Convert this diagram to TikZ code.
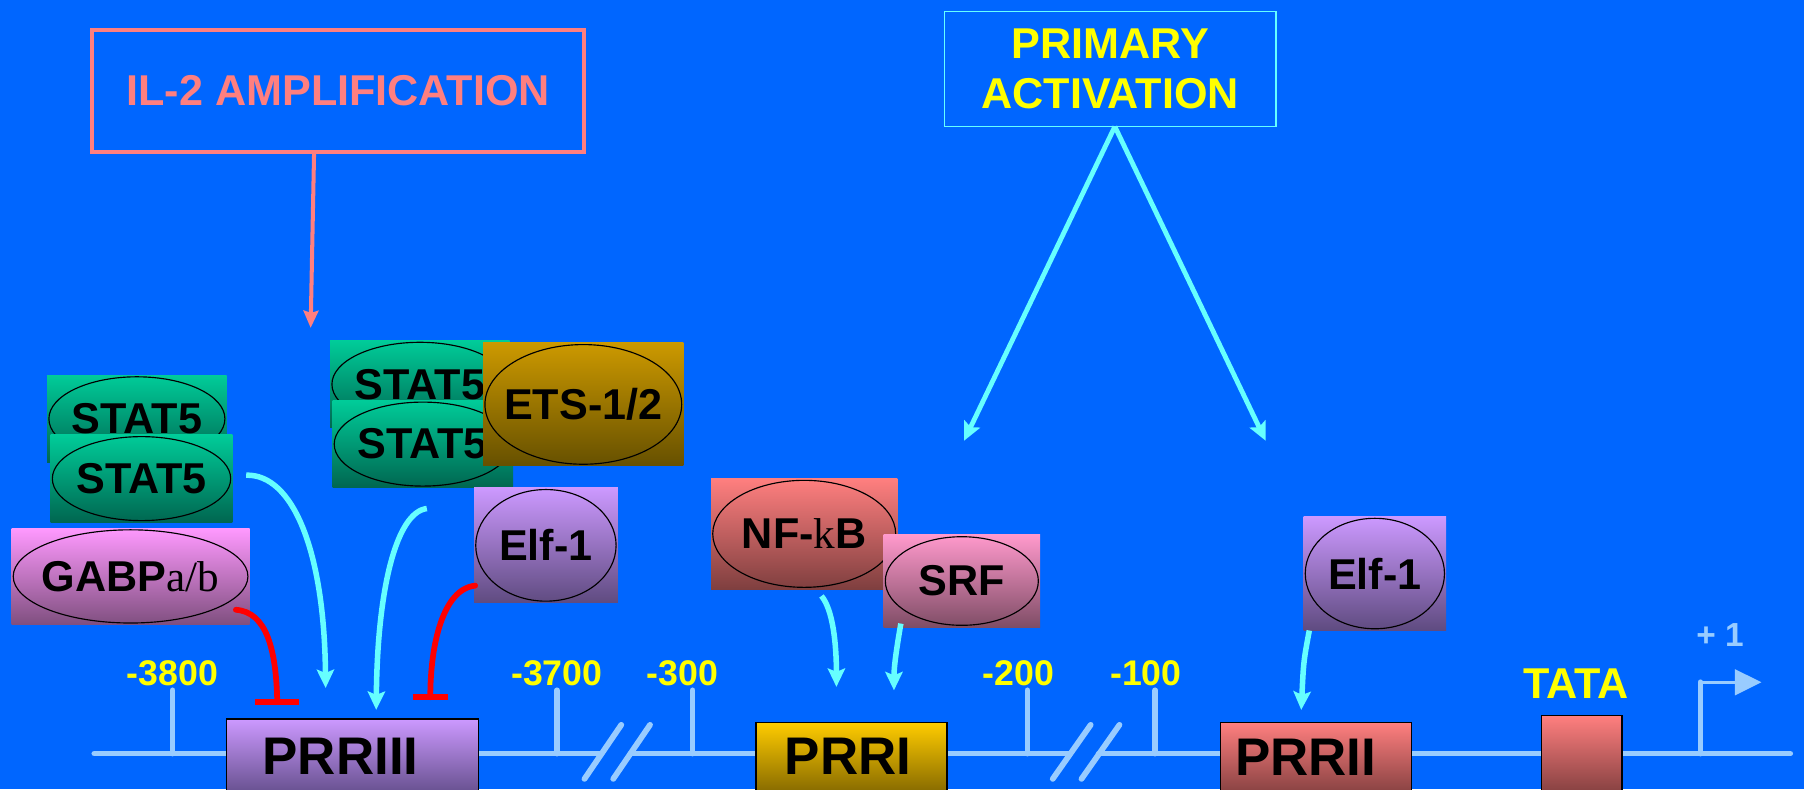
\documentclass[tikz,border=0pt]{standalone}
\usepackage{fontspec}
\setmainfont{Liberation Sans}
\newfontfamily\romanface{Liberation Serif}
\usetikzlibrary{arrows.meta,calc}

% palette
\definecolor{slidebg}{HTML}{0066FF}
\definecolor{salmon}{HTML}{FF7F7F}
\definecolor{aqua}{HTML}{66FFFF}
\definecolor{dnablue}{HTML}{99CCFF}
\definecolor{signyellow}{HTML}{FFFF00}
\definecolor{inhibred}{HTML}{FF0000}
\definecolor{statTop}{HTML}{00CC99}\definecolor{statBot}{HTML}{006650}
\definecolor{gabpTop}{HTML}{FF99FF}\definecolor{gabpBot}{HTML}{7F4F7F}
\definecolor{etsTop}{HTML}{CC9900}\definecolor{etsBot}{HTML}{665000}
\definecolor{elfTop}{HTML}{CC99FF}\definecolor{elfBot}{HTML}{5F4B80}
\definecolor{nfkbTop}{HTML}{FF7F7F}\definecolor{nfkbBot}{HTML}{7F3F3F}
\definecolor{srfTop}{HTML}{FF99CC}\definecolor{srfBot}{HTML}{7F4D66}
\definecolor{purpTop}{HTML}{CC99FF}\definecolor{purpBot}{HTML}{54437A}
\definecolor{goldTop}{HTML}{FFCC00}\definecolor{goldBot}{HTML}{6E5600}
\definecolor{redTop}{HTML}{FF7F7F}\definecolor{redBot}{HTML}{703636}

\newcommand{\bigfont}{\fontsize{37.5}{43.5}\selectfont\bfseries}
\newcommand{\numfont}{\fontsize{31}{34}\selectfont\bfseries}
\newcommand{\prrfont}{\fontsize{46}{50}\selectfont\bfseries}

\tikzset{
  x=1pt, y=-1pt,
  every node/.style={inner sep=0pt, outer sep=0pt},
  protein/.style={rectangle, font=\bigfont, text=black,
    path picture={\draw[black, line width=1pt]
      let \p1=(path picture bounding box.north east),
          \p2=(path picture bounding box.south west) in
      ($(\p1)!0.5!(\p2)$) ellipse ({(\x1-\x2)/2-1.5pt} and {(\y1-\y2)/2-1.5pt});}},
  gene/.style={rectangle, draw=black, line width=1.3pt, anchor=north west},
  prrlabel/.style={font=\prrfont, text=black, anchor=base},
  poslabel/.style={font=\numfont, text=signyellow, anchor=base},
  dna/.style={dnablue, line width=5pt, line cap=round},
  actarrow/.style={aqua, line width=4.8pt, -{Stealth[length=16pt,width=15pt,inset=3pt]}},
  ilarrow/.style={salmon, line width=3.5pt, -{Stealth[length=15pt,width=13pt,inset=2pt]}},
  inhib/.style={inhibred, line width=5pt, line cap=round},
}

\begin{document}
\begin{tikzpicture}
% slide background
\fill[slidebg] (0,0) rectangle (1568,686);
\useasboundingbox (0,0) rectangle (1568,686);
\clip (0,0) rectangle (1568,686);

% ---------- signal boxes ----------
\node[draw=salmon, line width=3.5pt, minimum width=428pt, minimum height=106pt,
      text=salmon, font=\bigfont] (il2) at (294,79) {IL-2 AMPLIFICATION};
\node[draw=aqua, line width=1.3pt, minimum width=288pt, minimum height=100pt,
      text=signyellow, font=\bigfont, align=center] (pa) at (965,60) {PRIMARY\\ACTIVATION};

\coordinate (iltip) at (270,285);
\coordinate (paL) at (838,383);
\coordinate (paR) at (1100,383);
\draw[ilarrow] ([xshift=-21pt]il2.south) -- (iltip);
\draw[actarrow, line width=4.2pt] ([xshift=4pt]pa.south) -- (paL);
\draw[actarrow, line width=4.2pt] ([xshift=4pt]pa.south) -- (paR);

% ---------- DNA ----------
\draw[dna] (82,655) -- (523,655);
\draw[dna] (548,655) -- (930,655);
\draw[dna] (955,655) -- (1556,655);
\draw[dna] (508,677) -- (540,630);
\draw[dna] (533,677) -- (565,630);
\draw[dna] (915,677) -- (948,630);
\draw[dna] (940,677) -- (973,630);

% position ticks and labels
\foreach \tx/\lab/\lx in {150/-3800/150, 484/-3700/484, 602/-300/593, 893/-200/885, 1004/-100/996}{
  \draw[dna] (\tx,600) -- (\tx,655);
  \node[poslabel] (pos\tx) at (\lx,596) {\lab};
}

% regulatory regions
\node[gene, top color=purpTop, bottom color=purpBot, minimum width=219pt, minimum height=76pt] (prr3) at (197,625) {};
\node[gene, top color=goldTop, bottom color=goldBot, minimum width=166pt, minimum height=73pt] (prr1) at (657,628) {};
\node[gene, top color=redTop, bottom color=redBot, minimum width=166pt, minimum height=73pt] (prr2) at (1061,628) {};
\node[gene, top color=redTop, bottom color=redBot, minimum width=70pt, minimum height=79pt] (tata) at (1340,622) {};
\node[prrlabel] (prr3txt) at (296,673) {PRRIII};
\node[prrlabel] (prr1txt) at (737,673) {PRRI};
\node[prrlabel] (prr2txt) at (1135,674) {PRRII};
\node[font=\bigfont, text=signyellow, anchor=base] (tatatxt) at (1370,607) {TATA};

% transcription start
\coordinate (tssbase) at (1478,655);
\coordinate (tsscorner) at (1478,593);
\coordinate (tsstip) at (1531,593);
\draw[dna] (tssbase) -- (tsscorner);
\draw[dnablue, line width=3pt, line cap=round, -{Triangle[length=23pt,width=22pt]}] (tsscorner) -- (tsstip);
\node[font=\fontsize{29}{30}\selectfont\bfseries, text=dnablue, anchor=base] (tss) at (1495,562) {+ 1};

% ---------- transcription factors ----------
\node[protein, top color=statTop, bottom color=statBot, minimum width=156pt, minimum height=76pt] (stat5a) at (119,364) {STAT5};
\node[protein, top color=statTop, bottom color=statBot, minimum width=158pt, minimum height=76pt] (stat5b) at (123,416) {STAT5};
\node[protein, top color=gabpTop, bottom color=gabpBot, minimum width=207pt, minimum height=84pt] (gabp) at (113.5,501) {GABP{\romanface\mdseries a/b}};

\node[protein, top color=statTop, bottom color=statBot, minimum width=156pt, minimum height=76pt] (stat5c) at (365,334) {STAT5};
\node[protein, top color=statTop, bottom color=statBot, minimum width=157pt, minimum height=76pt] (stat5d) at (367.5,386) {STAT5};
\node[protein, top color=etsTop, bottom color=etsBot, minimum width=174pt, minimum height=107pt] (ets) at (507,351.5) {ETS-1/2};
\node[protein, top color=elfTop, bottom color=elfBot, minimum width=125pt, minimum height=100pt] (elfa) at (474.5,474) {Elf-1};

\node[protein, top color=nfkbTop, bottom color=nfkbBot, minimum width=162pt, minimum height=96pt] (nfkb) at (699,464) {NF-{\romanface\mdseries k}B};
\node[protein, top color=srfTop, bottom color=srfBot, minimum width=136pt, minimum height=80pt] (srf) at (836,505) {SRF};
\node[protein, top color=elfTop, bottom color=elfBot, minimum width=124pt, minimum height=99pt] (elfb) at (1195,498.5) {Elf-1};

% ---------- binding arrows ----------
\coordinate (stA) at (214,413);  \coordinate (stAend) at (283,598);
\coordinate (stB) at (371,442);  \coordinate (stBend) at (327,617);
\coordinate (nfS) at (714,518);  \coordinate (nfE) at (727,597);
\coordinate (srS) at (783,542);  \coordinate (srE) at (777,600);
\coordinate (elS) at (1138,548); \coordinate (elE) at (1131,617);
\draw[actarrow] (stA) .. controls (255,412) and (282,480) .. (stAend);
\draw[actarrow] (stB) .. controls (345,445) and (328,510) .. (stBend);
\draw[actarrow] (nfS) .. controls (724,530) and (727,560) .. (nfE);
\draw[actarrow] (srS) .. controls (779,565) and (777,580) .. (srE);
\draw[actarrow] (elS) .. controls (1133,575) .. (elE);

% ---------- repression ----------
\coordinate (gbS) at (205,530); \coordinate (gbE) at (241,610);
\coordinate (efS) at (413,509); \coordinate (efE) at (374,606);
\draw[inhib] (gbS) .. controls (232,532) and (240,565) .. (gbE);
\draw[inhibred, line width=5.5pt] ([xshift=-19pt]gbE) -- ([xshift=19pt]gbE);
\draw[inhib] (efS) .. controls (385,512) and (374,560) .. (efE);
\draw[inhibred, line width=5.5pt] ([xshift=-15pt]efE) -- ([xshift=15pt]efE);
\end{tikzpicture}
\end{document}
